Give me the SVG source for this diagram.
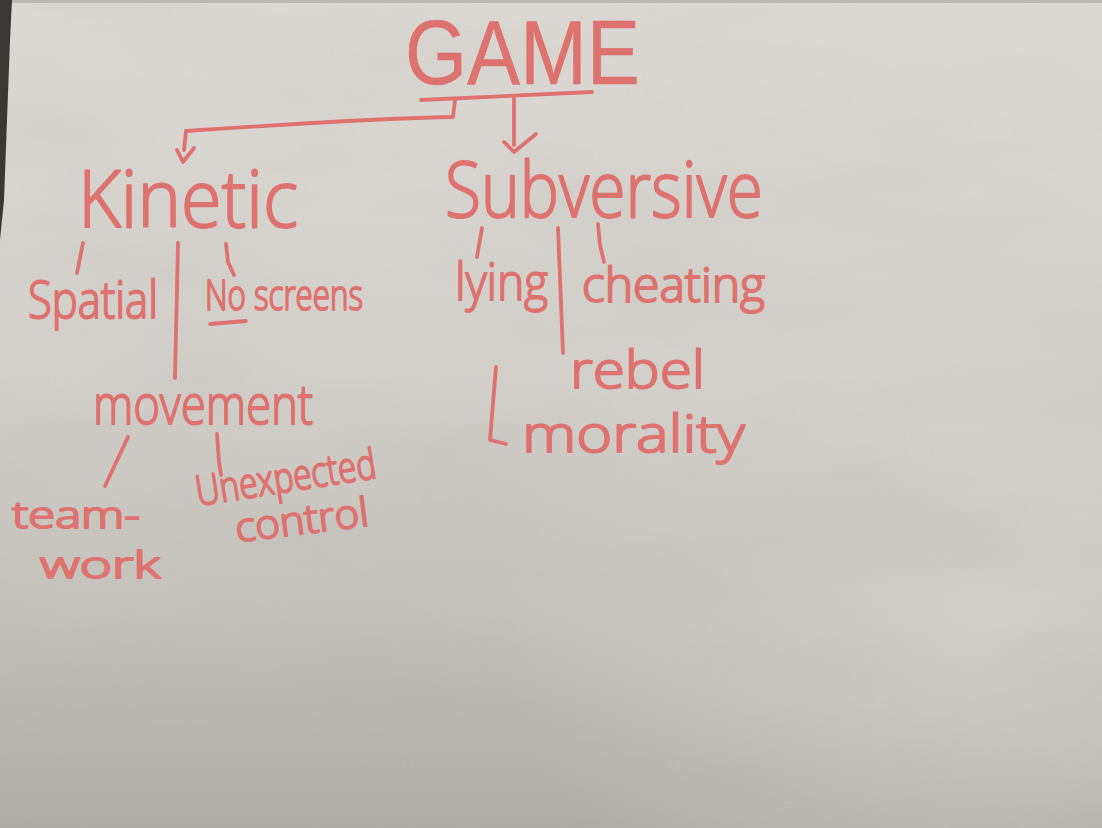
<svg xmlns="http://www.w3.org/2000/svg" width="1102" height="828" viewBox="0 0 1102 828">
  <defs>
    <linearGradient id="paper" x1="0" y1="0" x2="0" y2="1">
      <stop offset="0" stop-color="#dcd9d4"/>
      <stop offset="0.45" stop-color="#d3d0cb"/>
      <stop offset="0.75" stop-color="#c3c0ba"/>
      <stop offset="1" stop-color="#afaca6"/>
    </linearGradient>
    <radialGradient id="glow" cx="0.9" cy="0.75" r="0.45">
      <stop offset="0" stop-color="#d8d5d0" stop-opacity="0.7"/>
      <stop offset="1" stop-color="#d8d5d0" stop-opacity="0"/>
    </radialGradient>
    <filter id="mottle" x="0" y="0" width="1" height="1">
      <feTurbulence type="fractalNoise" baseFrequency="0.004 0.012" numOctaves="3" seed="7"/>
      <feColorMatrix type="matrix" values="0 0 0 0 0.45  0 0 0 0 0.44  0 0 0 0 0.42  0 0 0 0.9 -0.35"/>
    </filter>
    <style>
      .ink { fill: #de726e; stroke: #de726e; stroke-width: 2; stroke-linejoin: round;
             font-family: "Open Sans", "Liberation Sans", sans-serif; font-weight: 300; }
      .title { font-family: "Liberation Sans", "Open Sans", sans-serif; font-weight: 400; stroke-width: 0.5; }
      .line { fill: none; stroke: #de726e; stroke-width: 3.8; stroke-linecap: round; stroke-linejoin: round; }
    </style>
  </defs>

  <!-- sheet of paper -->
  <rect width="1102" height="828" fill="url(#paper)"/>
  <rect width="1102" height="828" fill="url(#glow)"/>
  <rect width="1102" height="828" filter="url(#mottle)" opacity="0.35"/>
  <!-- table showing past the top and left edges of the sheet -->
  <rect width="1102" height="3" fill="#bdbab5"/>
  <polygon points="0,0 12,0 10,40 7,120 4,200 0,240" fill="#3a3835"/>

  <!-- connectors -->
  <g id="connectors">
    <path class="line" d="M421,100 L592,92"/>
    <path class="line" d="M455,100 L453,117 Q400,118 330,122 T186,131 L184,150"/>
    <path class="line" d="M177,150 L183,162 L194,148"/>
    <path class="line" d="M514,98 L514,145"/>
    <path class="line" d="M504,142 L514,152 L536,134"/>
    <path class="line" d="M83,243 L77,273"/>
    <path class="line" d="M178,243 L175,378"/>
    <path class="line" d="M226,244 L228,262 L234,275"/>
    <path class="line" d="M128,437 L105,486"/>
    <path class="line" d="M217,434 L219,462 L221,475"/>
    <path class="line" d="M482,228 L477,257"/>
    <path class="line" d="M558,228 L563,353"/>
    <path class="line" d="M598,224 L600,245 L604,262"/>
    <path class="line" d="M496,367 L490,440 L506,444"/>
  </g>

  <g id="game"><text class="ink title" x="405" y="84" font-size="90" textLength="235" lengthAdjust="spacingAndGlyphs">GAME</text></g>
  <g id="kinetic"><text class="ink" x="78" y="227" font-size="80" textLength="220" lengthAdjust="spacingAndGlyphs">Kinetic</text></g>
  <g id="subversive"><text class="ink" x="445" y="217" font-size="78" textLength="318" lengthAdjust="spacingAndGlyphs">Subversive</text></g>
  <g id="spatial"><text class="ink" x="28" y="318" font-size="52" textLength="130" lengthAdjust="spacingAndGlyphs">Spatial</text></g>
  <g id="no-screens">
    <text class="ink" x="205" y="310" font-size="42" textLength="158" lengthAdjust="spacingAndGlyphs">No screens</text>
    <path class="line" d="M210,324 L246,321"/>
  </g>
  <g id="movement"><text class="ink" x="93" y="424" font-size="56" textLength="220" lengthAdjust="spacingAndGlyphs">movement</text></g>
  <g id="teamwork">
    <text class="ink" x="12" y="528" font-size="37" textLength="128" lengthAdjust="spacingAndGlyphs">team-</text>
    <text class="ink" x="40" y="578" font-size="37" textLength="120" lengthAdjust="spacingAndGlyphs">work</text>
  </g>
  <g id="unexpected-control">
    <text class="ink" x="198" y="506" font-size="42" textLength="182" lengthAdjust="spacingAndGlyphs" transform="rotate(-9 198 506)">Unexpected</text>
    <text class="ink" x="237" y="542" font-size="40" textLength="134" lengthAdjust="spacingAndGlyphs" transform="rotate(-7 237 542)">control</text>
  </g>
  <g id="lying"><text class="ink" x="455" y="300" font-size="52" textLength="93" lengthAdjust="spacingAndGlyphs">lying</text></g>
  <g id="cheating"><text class="ink" x="582" y="302" font-size="48" textLength="183" lengthAdjust="spacingAndGlyphs">cheating</text></g>
  <g id="rebel"><text class="ink" x="570" y="388" font-size="52" textLength="135" lengthAdjust="spacingAndGlyphs">rebel</text></g>
  <g id="morality"><text class="ink" x="522" y="452" font-size="52" textLength="223" lengthAdjust="spacingAndGlyphs">morality</text></g>
</svg>
